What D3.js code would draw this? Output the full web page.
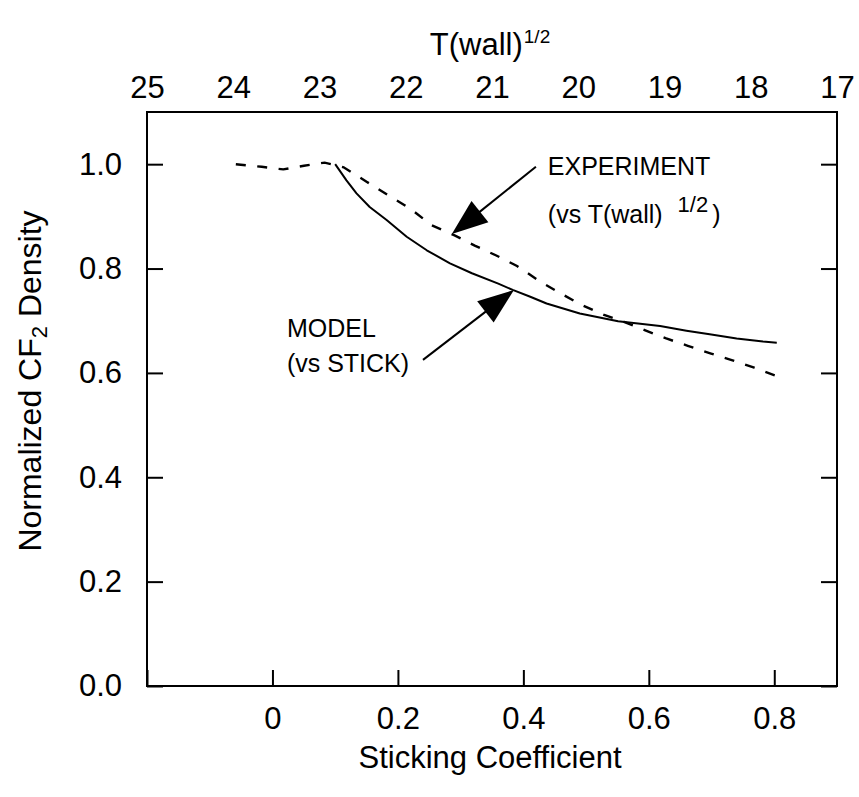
<!DOCTYPE html>
<html>
<head>
<meta charset="utf-8">
<script src="https://cdn.jsdelivr.net/npm/d3@7"></script>
<style>
  html, body { margin: 0; padding: 0; background: #ffffff; }
  svg { display: block; font-family: "Liberation Sans", Arial, Helvetica, sans-serif; }
</style>
</head>
<body>
<svg id="chart" width="859" height="797"></svg>
<script>
// Model: normalized CF2 density versus sticking coefficient (bottom axis)
const modelStick   = [0.100, 0.118, 0.134, 0.155, 0.182, 0.214, 0.246, 0.283, 0.318, 0.360, 0.383, 0.411, 0.437, 0.490, 0.551, 0.618, 0.660, 0.697, 0.740, 0.782, 0.804];
const modelDensity = [1.000, 0.969, 0.944, 0.918, 0.893, 0.861, 0.835, 0.810, 0.791, 0.771, 0.759, 0.746, 0.733, 0.714, 0.699, 0.690, 0.681, 0.674, 0.666, 0.660, 0.658];

// Experiment: normalized CF2 density versus T(wall)^1/2 (top axis)
const experimentTwall   = [23.97, 23.67, 23.42, 23.18, 22.94, 22.72, 22.45, 22.21, 21.94, 21.70, 21.44, 21.20, 20.95, 20.71, 20.45, 20.20, 19.97, 19.70, 19.47, 19.23, 18.98, 18.73, 18.46, 18.23, 17.96, 17.67];
const experimentDensity = [1.000, 0.995, 0.990, 0.997, 1.003, 0.994, 0.966, 0.941, 0.914, 0.883, 0.864, 0.844, 0.825, 0.805, 0.776, 0.752, 0.731, 0.711, 0.698, 0.682, 0.666, 0.652, 0.637, 0.625, 0.610, 0.592];

// Axis ticks and labels
const stickTicks  = [-0.2, 0, 0.2, 0.4, 0.6, 0.8];
const stickLabels = ["", "0", "0.2", "0.4", "0.6", "0.8"];
const twallTicks  = [25, 24, 23, 22, 21, 20, 19, 18, 17];
const densityTicks  = [0, 0.2, 0.4, 0.6, 0.8, 1.0];
const densityLabels = ["0.0", "0.2", "0.4", "0.6", "0.8", "1.0"];

// Callout arrows (tail -> tip), in sticking-coefficient / density units
const calloutArrows = [
  { tail: [0.420, 0.995], tip: [0.286, 0.866] },
  { tail: [0.240, 0.625], tip: [0.385, 0.759] }
];

const svg = d3.select("#chart");
const plotLeft = 147, plotRight = 837, plotTop = 112, plotBottom = 686;

const xStick = d3.scaleLinear().domain([-0.2, 0.9]).range([plotLeft, plotRight]);
const xTwall = d3.scaleLinear().domain([25, 17]).range([plotLeft, plotRight]);
const y = d3.scaleLinear().domain([0, 1.1]).range([plotBottom, plotTop]);

const tickFont = 31;
const titleFont = 31;

// Bottom axis (ticks point inward)
const gBottom = svg.append("g")
  .attr("transform", `translate(0,${plotBottom})`)
  .call(d3.axisBottom(xStick)
    .tickValues(stickTicks)
    .tickFormat((d, i) => stickLabels[i])
    .tickSizeInner(-16).tickSizeOuter(0).tickPadding(21));

// Left axis
const gLeft = svg.append("g")
  .attr("transform", `translate(${plotLeft},0)`)
  .call(d3.axisLeft(y)
    .tickValues(densityTicks)
    .tickFormat((d, i) => densityLabels[i])
    .tickSizeInner(-16).tickSizeOuter(0).tickPadding(25));

// Right axis (ticks only)
const gRight = svg.append("g")
  .attr("transform", `translate(${plotRight},0)`)
  .call(d3.axisRight(y)
    .tickValues(densityTicks)
    .tickFormat("")
    .tickSizeInner(-16).tickSizeOuter(0));

// Top axis: T(wall)^1/2 labels, no tick marks
const gTop = svg.append("g")
  .attr("transform", `translate(0,${plotTop})`)
  .call(d3.axisTop(xTwall)
    .tickValues(twallTicks)
    .tickFormat(d3.format("d"))
    .tickSize(0).tickPadding(14));

[gBottom, gLeft, gRight, gTop].forEach(g => {
  g.select(".domain").remove();
  g.selectAll(".tick line").attr("stroke", "#000").attr("stroke-width", 2);
  g.selectAll(".tick text")
    .attr("fill", "#000")
    .style("font-family", '"Liberation Sans", Arial, sans-serif')
    .style("font-size", tickFont + "px");
});

// Frame
svg.append("rect")
  .attr("x", plotLeft).attr("y", plotTop)
  .attr("width", plotRight - plotLeft).attr("height", plotBottom - plotTop)
  .attr("fill", "none").attr("stroke", "#000").attr("stroke-width", 2);

// Curves
const modelLine = d3.line()
  .x(i => xStick(modelStick[i]))
  .y(i => y(modelDensity[i]));
svg.append("path")
  .attr("d", modelLine(d3.range(modelStick.length)))
  .attr("fill", "none").attr("stroke", "#000").attr("stroke-width", 2)
  .attr("stroke-linejoin", "round");

const experimentLine = d3.line()
  .x(i => xTwall(experimentTwall[i]))
  .y(i => y(experimentDensity[i]));
svg.append("path")
  .attr("d", experimentLine(d3.range(experimentTwall.length)))
  .attr("fill", "none").attr("stroke", "#000").attr("stroke-width", 2.4)
  .attr("stroke-dasharray", "10,11.5");

// Callout arrows with filled heads
const headLen = 36, headHalf = 13.5;
calloutArrows.forEach(a => {
  const x0 = xStick(a.tail[0]), y0 = y(a.tail[1]);
  const x1 = xStick(a.tip[0]),  y1 = y(a.tip[1]);
  const dx = x1 - x0, dy = y1 - y0, len = Math.hypot(dx, dy);
  const ux = dx / len, uy = dy / len;
  const bx = x1 - ux * headLen, by = y1 - uy * headLen;
  svg.append("line")
    .attr("x1", x0).attr("y1", y0).attr("x2", bx + ux * 2).attr("y2", by + uy * 2)
    .attr("stroke", "#000").attr("stroke-width", 2);
  svg.append("polygon")
    .attr("points", [
      [x1, y1],
      [bx - uy * headHalf, by + ux * headHalf],
      [bx + uy * headHalf, by - ux * headHalf]
    ].map(p => p.join(",")).join(" "))
    .attr("fill", "#000");
});

// Callout text
const noteFont = 25;
svg.append("text")
  .attr("x", xStick(0.439)).attr("y", y(0.979))
  .style("font-size", noteFont + "px")
  .text("EXPERIMENT");
const expNote = svg.append("text")
  .attr("x", xStick(0.439)).attr("y", y(0.887))
  .style("font-size", noteFont + "px");
expNote.append("tspan").text("(vs T(wall) ");
expNote.append("tspan").attr("dy", -11).attr("dx", 8).style("font-size", "22px").text("1/2");
expNote.append("tspan").attr("dy", 11).attr("dx", 4).text(")");

svg.append("text")
  .attr("x", xStick(0.023)).attr("y", y(0.669))
  .style("font-size", noteFont + "px")
  .text("MODEL");
svg.append("text")
  .attr("x", xStick(0.023)).attr("y", y(0.601))
  .style("font-size", noteFont + "px")
  .text("(vs STICK)");

// Axis titles
const topTitle = svg.append("text")
  .attr("x", (plotLeft + plotRight) / 2 - 2).attr("y", 55)
  .attr("text-anchor", "middle")
  .style("font-size", titleFont + "px");
topTitle.append("tspan").text("T(wall)");
topTitle.append("tspan").attr("dy", -12).attr("dx", 1).style("font-size", "19px").text("1/2");

svg.append("text")
  .attr("x", (plotLeft + plotRight) / 2 - 2).attr("y", 768)
  .attr("text-anchor", "middle")
  .style("font-size", titleFont + "px")
  .text("Sticking Coefficient");

const yTitle = svg.append("text")
  .attr("transform", `translate(41,381) rotate(-90)`)
  .attr("text-anchor", "middle")
  .style("font-size", "32px");
yTitle.append("tspan").text("Normalized CF");
yTitle.append("tspan").attr("dy", 6).style("font-size", "22px").text("2");
yTitle.append("tspan").attr("dy", -6).text(" Density");
</script>
</body>
</html>
